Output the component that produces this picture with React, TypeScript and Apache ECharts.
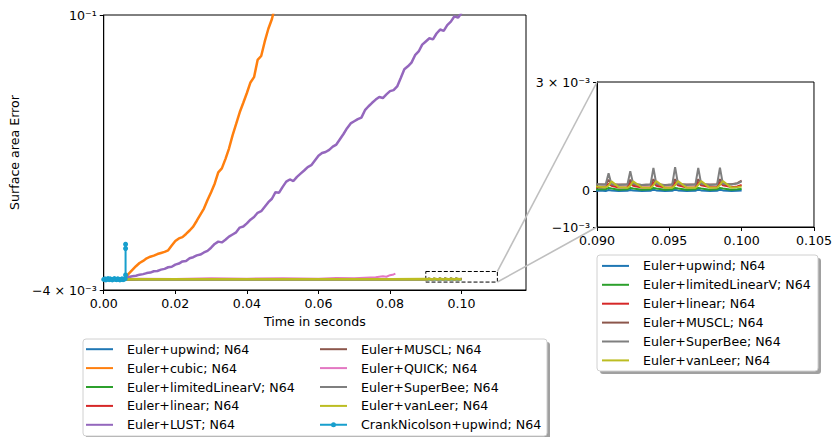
import React, { useEffect, useRef } from "react";
import * as echarts from "echarts";

// Error values below are in units of 10^-3; time in seconds.

const FONT = "DejaVu Sans";
const FONT_SIZE = 12.6;

const NAMES = {
  upwind: "Euler+upwind; N64",
  cubic: "Euler+cubic; N64",
  limitedLinearV: "Euler+limitedLinearV; N64",
  linear: "Euler+linear; N64",
  lust: "Euler+LUST; N64",
  muscl: "Euler+MUSCL; N64",
  quick: "Euler+QUICK; N64",
  superBee: "Euler+SuperBee; N64",
  vanLeer: "Euler+vanLeer; N64",
  crank: "CrankNicolson+upwind; N64",
};

const COLORS = {
  upwind: "#1f77b4",
  cubic: "#ff7f0e",
  limitedLinearV: "#2ca02c",
  linear: "#d62728",
  lust: "#9467bd",
  muscl: "#8c564b",
  quick: "#e377c2",
  superBee: "#7f7f7f",
  vanLeer: "#bcbd22",
  crank: "#179fcd",
};

// Tick positions
const mainXTicks = [0, 0.02, 0.04, 0.06, 0.08, 0.1];
const mainYTicks = [-4, 100];
const insetXTicks = [0.09, 0.095, 0.1, 0.105];
const insetYTicks = [-1, 0, 3];

// Euler+cubic
const cubicT = [
  0, 0.002, 0.004, 0.006, 0.007, 0.008, 0.009, 0.01, 0.011, 0.012, 0.013, 0.014, 0.015, 0.016,
  0.017, 0.018, 0.019, 0.02, 0.021, 0.022, 0.023, 0.024, 0.025, 0.026, 0.027, 0.028, 0.029, 0.03,
  0.031, 0.032, 0.033, 0.034, 0.035, 0.036, 0.037, 0.038, 0.039, 0.04, 0.041, 0.042, 0.043, 0.044,
  0.045, 0.046, 0.047, 0.048,
];
const cubicV = [
  0, 0.1, 0.1, 0.4, 2.2, 3.6, 5.0, 6.2, 7.0, 8.0, 8.6, 9.0, 9.6, 10.0, 10.4, 11.0, 12.8, 14.5, 15.5,
  16.0, 17.2, 18.5, 20.0, 22.2, 24.5, 26.8, 30.0, 33.0, 36.2, 40.5, 42.0, 45.5, 49.5, 54.5, 58.8,
  63.2, 66.8, 70.5, 74.5, 76.5, 83.0, 84.5, 90.0, 94.8, 98.5, 104.0,
];

// Euler+LUST
const lustT = [
  0, 0.002, 0.004, 0.006, 0.007, 0.008, 0.009, 0.01, 0.011, 0.012, 0.013, 0.014, 0.015, 0.016,
  0.017, 0.018, 0.019, 0.02, 0.021, 0.022, 0.023, 0.024, 0.025, 0.026, 0.027, 0.028, 0.029, 0.03,
  0.031, 0.032, 0.033, 0.034, 0.035, 0.036, 0.037, 0.038, 0.039, 0.04, 0.041, 0.042, 0.043, 0.044,
  0.045, 0.046, 0.047, 0.048, 0.049, 0.05, 0.051, 0.052, 0.053, 0.054, 0.055, 0.056, 0.057, 0.058,
  0.059, 0.06, 0.061, 0.062, 0.063, 0.064, 0.065, 0.066, 0.067, 0.068, 0.069, 0.07, 0.071, 0.072,
  0.073, 0.074, 0.075, 0.076, 0.077, 0.078, 0.079, 0.08, 0.081, 0.082, 0.083, 0.084, 0.085, 0.086,
  0.087, 0.088, 0.089, 0.09, 0.091, 0.092, 0.093, 0.094, 0.095, 0.096, 0.097, 0.098, 0.099, 0.1,
];
const lustV = [
  0, 0.1, 0.2, 0.4, 0.9, 1.2, 1.4, 1.8, 2.0, 2.4, 2.6, 3.1, 3.2, 3.7, 4.0, 4.6, 4.8, 5.6, 6.0, 6.8,
  7.0, 8.0, 8.4, 9.1, 9.4, 10.2, 10.8, 12.0, 13.4, 14.3, 14.0, 15.0, 16.2, 17.0, 17.8, 19.6, 20.0,
  21.2, 22.6, 23.6, 25.2, 25.8, 27.5, 29.2, 30.5, 33.0, 32.8, 35.0, 37.0, 37.8, 37.2, 38.8, 40.0,
  41.2, 42.5, 43.2, 45.0, 46.8, 47.8, 48.2, 49.0, 50.2, 51.0, 53.0, 55.0, 57.2, 59.0, 59.8, 60.6,
  61.2, 64.0, 65.5, 66.8, 68.0, 69.0, 68.6, 70.0, 71.2, 71.6, 73.0, 76.2, 79.5, 80.6, 82.0, 84.8,
  86.2, 88.8, 90.0, 91.2, 90.8, 93.0, 94.5, 94.0, 96.2, 97.5, 99.5, 99.0, 100.8,
];

// Euler+QUICK
const quickT = [0, 0.01, 0.02, 0.03, 0.04, 0.05, 0.06, 0.065, 0.07, 0.073, 0.076, 0.078, 0.079, 0.08, 0.081, 0.0815];
const quickV = [0, 0.3, 0.2, 0.4, 0.3, 0.4, 0.3, 0.5, 0.4, 0.6, 0.8, 1.2, 1.0, 1.6, 1.9, 2.2];

// CrankNicolson+upwind
const crankT = [
  0, 0.0003, 0.0006, 0.0009, 0.0012, 0.0015, 0.0018, 0.0021, 0.0024, 0.0027, 0.003, 0.0033, 0.0036,
  0.0039, 0.0042, 0.0045, 0.0048, 0.0051, 0.0054, 0.0057, 0.006, 0.0061, 0.0061, 0.0061,
];
const crankV = [
  0.0, 0.2, -0.2, 0.1, 0.3, -0.1, 0.2, 0.0, -0.2, 0.1, 0.3, 0.0, -0.1, 0.2, 0.1, -0.2, 0.0, 0.2, -0.1,
  0.1, 0.3, 1.7, 11.7, 13.3,
];

// Near-zero schemes: coarse samples up to 0.08 s, then dense samples over 0.09-0.1 s
const baseT = [0, 0.01, 0.02, 0.03, 0.04, 0.05, 0.06, 0.07, 0.08];
const zoomT = [
  0.09, 0.0904, 0.0906, 0.0908, 0.091, 0.0915, 0.0921, 0.0923, 0.0925, 0.0931, 0.0937, 0.0939,
  0.0941, 0.0947, 0.0952, 0.0954, 0.0956, 0.0962, 0.0968, 0.097, 0.0972, 0.0978, 0.0983, 0.0985,
  0.0987, 0.0993, 0.0997, 0.1,
];

const upwindBase = [0, 0.0, 0.01, 0.0, 0.01, 0.0, 0.01, 0.0, 0.01];
const upwindZoom = [
  0.0, 0.0, -0.01, 0.02, 0.01, -0.01, 0.0, 0.02, 0.01, -0.01, 0.0, 0.03, 0.01, -0.01, 0.0, 0.03,
  0.01, -0.01, 0.0, 0.03, 0.01, -0.01, 0.0, 0.03, 0.01, -0.01, 0.0, 0.01,
];
const limitedBase = [0, 0.03, 0.04, 0.03, 0.04, 0.04, 0.03, 0.04, 0.04];
const limitedZoom = [
  0.04, 0.04, 0.04, 0.08, 0.06, 0.03, 0.04, 0.08, 0.06, 0.03, 0.04, 0.08, 0.06, 0.03, 0.04, 0.08,
  0.06, 0.03, 0.04, 0.08, 0.06, 0.03, 0.04, 0.08, 0.06, 0.03, 0.04, 0.05,
];
const linearBase = [0, 0.08, 0.1, 0.09, 0.1, 0.1, 0.09, 0.1, 0.1];
const linearZoom = [
  0.1, 0.1, 0.1, 0.2, 0.14, 0.09, 0.1, 0.22, 0.14, 0.09, 0.1, 0.24, 0.14, 0.09, 0.1, 0.24, 0.15,
  0.09, 0.1, 0.24, 0.15, 0.1, 0.1, 0.24, 0.15, 0.1, 0.12, 0.16,
];
const musclBase = [0, 0.15, 0.17, 0.16, 0.17, 0.17, 0.16, 0.17, 0.17];
const musclZoom = [
  0.17, 0.17, 0.17, 0.3, 0.18, 0.17, 0.17, 0.3, 0.18, 0.16, 0.17, 0.32, 0.18, 0.16, 0.17, 0.32,
  0.18, 0.17, 0.17, 0.32, 0.18, 0.17, 0.18, 0.32, 0.18, 0.18, 0.21, 0.28,
];
const superBeeBase = [0, 0.16, 0.18, 0.17, 0.18, 0.18, 0.17, 0.18, 0.18];
const superBeeZoom = [
  0.18, 0.17, 0.17, 0.48, 0.18, 0.16, 0.17, 0.54, 0.19, 0.16, 0.17, 0.63, 0.19, 0.15, 0.17, 0.65,
  0.19, 0.16, 0.17, 0.63, 0.19, 0.16, 0.17, 0.64, 0.19, 0.17, 0.2, 0.26,
];
const vanLeerBase = [0, 0.09, 0.1, 0.09, 0.1, 0.11, 0.09, 0.1, 0.1];
const vanLeerZoom = [
  0.12, 0.1, 0.1, 0.14, 0.26, 0.1, 0.08, 0.14, 0.26, 0.09, 0.08, 0.15, 0.27, 0.08, 0.08, 0.15,
  0.27, 0.08, 0.08, 0.16, 0.27, 0.08, 0.09, 0.16, 0.27, 0.08, 0.1, 0.12,
];

// Zoomed window (drawn as dashed box on the main axes)
const zoomBox = { x0: 0.09, x1: 0.11, y0: -1, y1: 3 };

const zip = (t: number[], v: number[]) => t.map((x, i) => [x, v[i]]);
const nearZero = (base: number[], zoom: number[]) => zip(baseT.concat(zoomT), base.concat(zoom));

const textStyle = { fontFamily: FONT, fontSize: FONT_SIZE, color: "#000" };

// legend glyphs: a short stroke, and a stroke with a dot for the marker series
const LINE_ICON = "path://M0,0L27,0L27,2L0,2Z";
const DOT_ICON = "path://M0,3L27,3L27,5L0,5Z M11,4A2.5,2.5,0,1,1,16,4A2.5,2.5,0,1,1,11,4Z";

function lineSeries(key: keyof typeof NAMES, data: number[][], grid: number, extra: any = {}) {
  return {
    type: "line",
    name: NAMES[key],
    xAxisIndex: grid,
    yAxisIndex: grid,
    data,
    symbol: "none",
    color: COLORS[key],
    lineStyle: { width: 2, color: COLORS[key] },
    silent: true,
    ...extra,
  };
}

function legendItems(keys: (keyof typeof NAMES)[]) {
  return keys.map((k) => ({ name: NAMES[k], icon: k === "crank" ? DOT_ICON : LINE_ICON }));
}

function legendBlock(left: number, top: number, keys: (keyof typeof NAMES)[]) {
  return {
    left,
    top,
    padding: 0,
    orient: "vertical",
    itemWidth: 27,
    itemHeight: 6,
    itemGap: 5.9,
    selectedMode: false,
    textStyle: { ...textStyle, padding: [0, 0, 0, 9] },
    data: legendItems(keys),
  };
}

function mainYLabel(v: number) {
  return Math.round(v) === 100 ? "10⁻¹" : "−4 × 10⁻³";
}
function insetYLabel(v: number) {
  const r = Math.round(v);
  if (r === 3) return "3 × 10⁻³";
  if (r === 0) return "0";
  return "−10⁻³";
}

export default function App() {
  const ref = useRef<HTMLDivElement>(null);

  useEffect(() => {
    const chart = echarts.init(ref.current!, null, { renderer: "svg" });

    const axisCommon = {
      type: "value",
      axisLine: { show: true, onZero: false, lineStyle: { color: "#000", width: 1 } },
      splitLine: { show: false },
    };

    const upwindData = nearZero(upwindBase, upwindZoom);
    const limitedData = nearZero(limitedBase, limitedZoom);
    const linearData = nearZero(linearBase, linearZoom);
    const musclData = nearZero(musclBase, musclZoom);
    const superBeeData = nearZero(superBeeBase, superBeeZoom);
    const vanLeerData = nearZero(vanLeerBase, vanLeerZoom);

    const option: any = {
      animation: false,
      backgroundColor: "#fff",
      grid: [
        { left: 101, top: 15, width: 425, height: 275, show: true, borderColor: "#000", borderWidth: 1 },
        { left: 597, top: 82, width: 219, height: 145, show: true, borderColor: "#000", borderWidth: 1 },
      ],
      xAxis: [
        {
          ...axisCommon,
          gridIndex: 0,
          min: 0,
          max: 0.118,
          axisTick: { customValues: mainXTicks, length: 4, lineStyle: { color: "#000" } },
          axisLabel: {
            customValues: mainXTicks,
            formatter: (v: number) => v.toFixed(2),
            margin: 7,
            ...textStyle,
          },
          name: "Time in seconds",
          nameLocation: "middle",
          nameGap: 25,
          nameTextStyle: textStyle,
        },
        {
          ...axisCommon,
          gridIndex: 1,
          min: 0.09,
          max: 0.105,
          axisTick: { customValues: insetXTicks, length: 4, lineStyle: { color: "#000" } },
          axisLabel: {
            customValues: insetXTicks,
            formatter: (v: number) => v.toFixed(3),
            margin: 7,
            ...textStyle,
          },
        },
      ],
      yAxis: [
        {
          ...axisCommon,
          gridIndex: 0,
          min: -4,
          max: 100,
          axisTick: { customValues: mainYTicks, length: 4, lineStyle: { color: "#000" } },
          axisLabel: { customValues: mainYTicks, formatter: mainYLabel, margin: 7, ...textStyle },
          name: "Surface area Error",
          nameLocation: "middle",
          nameGap: 76,
          nameTextStyle: textStyle,
        },
        {
          ...axisCommon,
          gridIndex: 1,
          min: -1,
          max: 3,
          axisTick: { customValues: insetYTicks, length: 4, lineStyle: { color: "#000" } },
          axisLabel: { customValues: insetYTicks, formatter: insetYLabel, margin: 7, ...textStyle },
        },
      ],
      legend: [
        legendBlock(86, 342.7, ["upwind", "cubic", "limitedLinearV", "linear", "lust"]),
        legendBlock(320, 342.7, ["muscl", "quick", "superBee", "vanLeer", "crank"]),
        legendBlock(602, 259.4, ["upwind", "limitedLinearV", "linear", "muscl", "superBee", "vanLeer"]),
      ],
      series: [
        // main axes
        lineSeries("upwind", upwindData, 0),
        lineSeries("cubic", zip(cubicT, cubicV), 0, { lineStyle: { width: 2.5, color: COLORS.cubic } }),
        lineSeries("limitedLinearV", limitedData, 0),
        lineSeries("linear", linearData, 0),
        lineSeries("lust", zip(lustT, lustV), 0, { lineStyle: { width: 2.5, color: COLORS.lust } }),
        lineSeries("muscl", musclData, 0),
        lineSeries("quick", zip(quickT, quickV), 0),
        lineSeries("superBee", superBeeData, 0),
        lineSeries("vanLeer", vanLeerData, 0, {
          lineStyle: { width: 2.5, color: COLORS.vanLeer },
          markArea: {
            silent: true,
            itemStyle: { color: "rgba(0,0,0,0)", borderColor: "#000", borderWidth: 1, borderType: [4, 2] },
            label: { show: false },
            data: [[{ coord: [zoomBox.x0, zoomBox.y1] }, { coord: [zoomBox.x1, zoomBox.y0] }]],
          },
        }),
        lineSeries("crank", zip(crankT, crankV), 0, {
          symbol: "circle",
          symbolSize: 5,
          showSymbol: true,
          showAllSymbol: true,
          itemStyle: { color: COLORS.crank },
        }),
        // inset axes
        lineSeries("upwind", upwindData, 1),
        lineSeries("limitedLinearV", limitedData, 1),
        lineSeries("linear", linearData, 1),
        lineSeries("muscl", musclData, 1),
        lineSeries("superBee", superBeeData, 1),
        lineSeries("vanLeer", vanLeerData, 1),
      ],
    };

    chart.setOption(option);

    // connector lines from the dashed box to the inset corners
    const pTop = chart.convertToPixel({ gridIndex: 0 } as any, [zoomBox.x1, zoomBox.y1]) as number[];
    const pBot = chart.convertToPixel({ gridIndex: 0 } as any, [zoomBox.x1, zoomBox.y0]) as number[];
    const qTop = chart.convertToPixel({ gridIndex: 1 } as any, [0.09, 3]) as number[];
    const qBot = chart.convertToPixel({ gridIndex: 1 } as any, [0.09, -1]) as number[];

    const connector = { stroke: "#bfbfbf", lineWidth: 1.6 };

    chart.setOption({
      graphic: [
        { type: "line", z: 1, shape: { x1: pTop[0], y1: pTop[1], x2: qTop[0], y2: qTop[1] }, style: connector, silent: true },
        { type: "line", z: 1, shape: { x1: pBot[0], y1: pBot[1], x2: qBot[0], y2: qBot[1] }, style: connector, silent: true },
        // main legend frame
        { type: "rect", z: 1, shape: { x: 86, y: 342, width: 464, height: 97, r: 3 }, style: { fill: "#a0a0a0" }, silent: true },
        { type: "rect", z: 2, shape: { x: 83, y: 339, width: 464, height: 97, r: 3 }, style: { fill: "#fff", stroke: "#d0d0d0", lineWidth: 1 }, silent: true },
        // inset legend frame
        { type: "rect", z: 1, shape: { x: 600, y: 258, width: 221, height: 116, r: 3 }, style: { fill: "#a0a0a0" }, silent: true },
        { type: "rect", z: 2, shape: { x: 597, y: 255, width: 221, height: 116, r: 3 }, style: { fill: "#fff", stroke: "#d0d0d0", lineWidth: 1 }, silent: true },
      ],
    });

    return () => chart.dispose();
  }, []);

  return (
    <div
      ref={ref}
      style={{ position: "absolute", left: 0, top: 0, width: 835, height: 437 }}
    />
  );
}
